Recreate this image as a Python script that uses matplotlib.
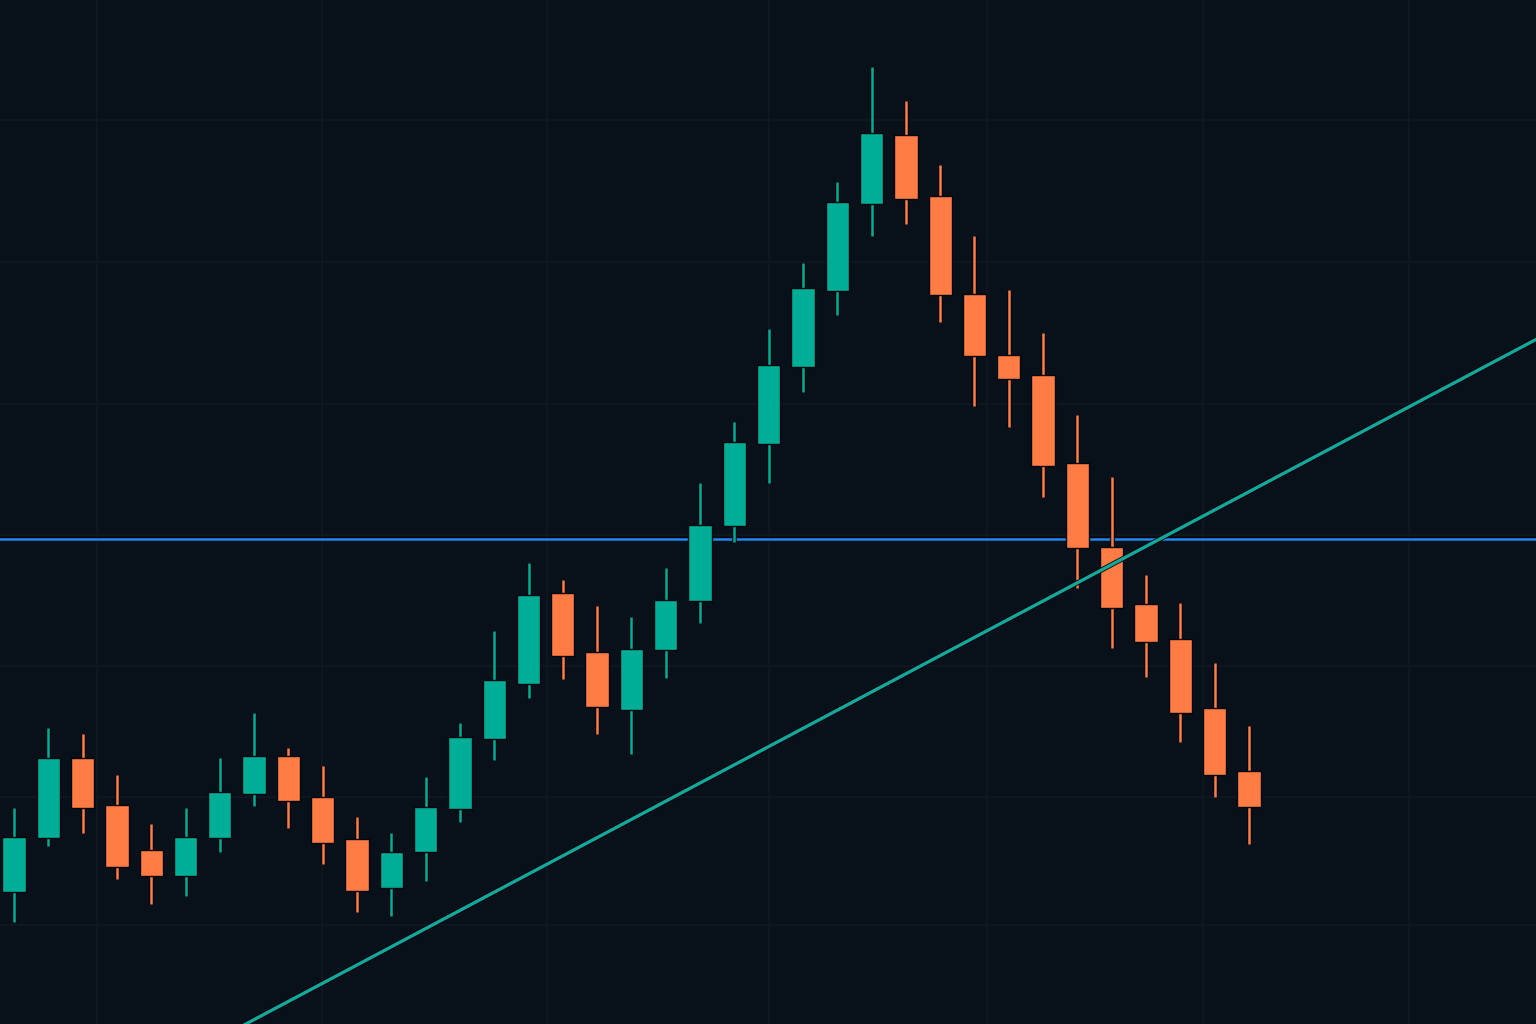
import matplotlib
matplotlib.use("Agg")
import matplotlib.pyplot as plt
import matplotlib.patheffects as pe
from matplotlib.patches import Rectangle

# ---- data (price units) ----
candle_index = list(range(-1, 37))
opens  = [111.0, 113.2, 118.6, 126.6, 121.9, 117.4, 114.8, 118.6, 123.0, 126.8, 122.7,
          118.5, 113.6, 117.2, 121.5, 128.5, 134.0, 143.1, 137.2, 131.4, 137.4, 142.3,
          149.8, 158.0, 165.7, 173.3, 182.0, 188.9, 182.8, 173.0, 166.9, 164.9, 156.1,
          147.7, 142.0, 138.5, 131.6, 125.3]
highs  = [114.5, 121.6, 129.6, 129.0, 124.9, 120.0, 121.6, 126.6, 131.1, 127.6, 125.8,
          120.7, 119.1, 124.7, 130.1, 139.3, 146.1, 144.4, 141.8, 140.7, 145.6, 154.1,
          160.2, 169.5, 176.1, 184.2, 195.7, 192.3, 185.9, 178.8, 173.4, 169.1, 160.9,
          154.7, 144.9, 142.1, 136.1, 129.8]
lows   = [109.5, 110.2, 117.8, 119.1, 114.5, 112.0, 112.8, 117.2, 121.8, 119.6, 116.0,
          111.2, 110.8, 114.3, 120.2, 126.4, 132.6, 134.5, 129.0, 127.0, 134.6, 140.1,
          148.2, 154.1, 163.2, 170.9, 178.8, 180.0, 170.2, 161.8, 159.7, 152.7, 143.6,
          137.6, 134.7, 128.2, 122.7, 118.0]
closes = [113.5, 118.7, 126.6, 121.6, 115.7, 114.8, 118.7, 123.2, 126.8, 122.3, 118.1,
          113.3, 117.2, 121.7, 128.7, 134.4, 142.9, 136.8, 131.7, 137.5, 142.4, 149.9,
          158.2, 165.9, 173.6, 182.2, 189.1, 182.5, 172.9, 166.8, 164.5, 155.8, 147.6,
          141.6, 138.2, 131.1, 124.9, 121.7]

resistance_level = 148.5
trend_x = [0, 45]
trend_y = [87.7, 169.6]

grid_prices = [109.9, 122.7, 135.8, 148.9, 162.0, 176.2, 190.4]
grid_times = [2.42, 8.98, 15.54, 22.01, 28.37, 34.66, 40.67]

# ---- style ----
BG = "#08101a"
GRID = "#0e1721"
UP = "#00ad96"
DOWN = "#ff7d44"
EDGE = "#03070b"
BLUE = "#2188f2"
TREND = "#14a79b"

fig = plt.figure(figsize=(15.36, 10.24), dpi=100, facecolor=BG)
ax = fig.add_axes([0, 0, 1, 1])
ax.set_facecolor(BG)
ax.set_xlim(-0.408, 44.37)
ax.set_ylim(100.0, 202.4)

ax.set_xticks(grid_times)
ax.set_yticks(grid_prices)
ax.grid(True, color=GRID, linewidth=1.5, zorder=0)
ax.tick_params(length=0, labelbottom=False, labelleft=False)
for s in ax.spines.values():
    s.set_visible(False)

body_w = 0.68
for i, o, h, l, c in zip(candle_index, opens, highs, lows, closes):
    col = UP if c >= o else DOWN
    ax.plot([i, i], [l, h], color=col, linewidth=1.8, zorder=3,
            solid_capstyle="butt",
            path_effects=[pe.Stroke(linewidth=3.4, foreground=EDGE), pe.Normal()])
    bottom = min(o, c)
    ax.add_patch(Rectangle((i - body_w / 2, bottom), body_w, abs(c - o),
                           facecolor=col, edgecolor=EDGE, linewidth=1.0, zorder=4))

ax.axhline(resistance_level, color=BLUE, linewidth=1.8, zorder=2,
           path_effects=[pe.Stroke(linewidth=3.0, foreground="#020408"), pe.Normal()])
ax.plot(trend_x, trend_y, color=TREND, linewidth=2.4, zorder=5,
        path_effects=[pe.Stroke(linewidth=3.6, foreground="#020408"), pe.Normal()])

fig.savefig("out.png", dpi=100, facecolor=BG)
